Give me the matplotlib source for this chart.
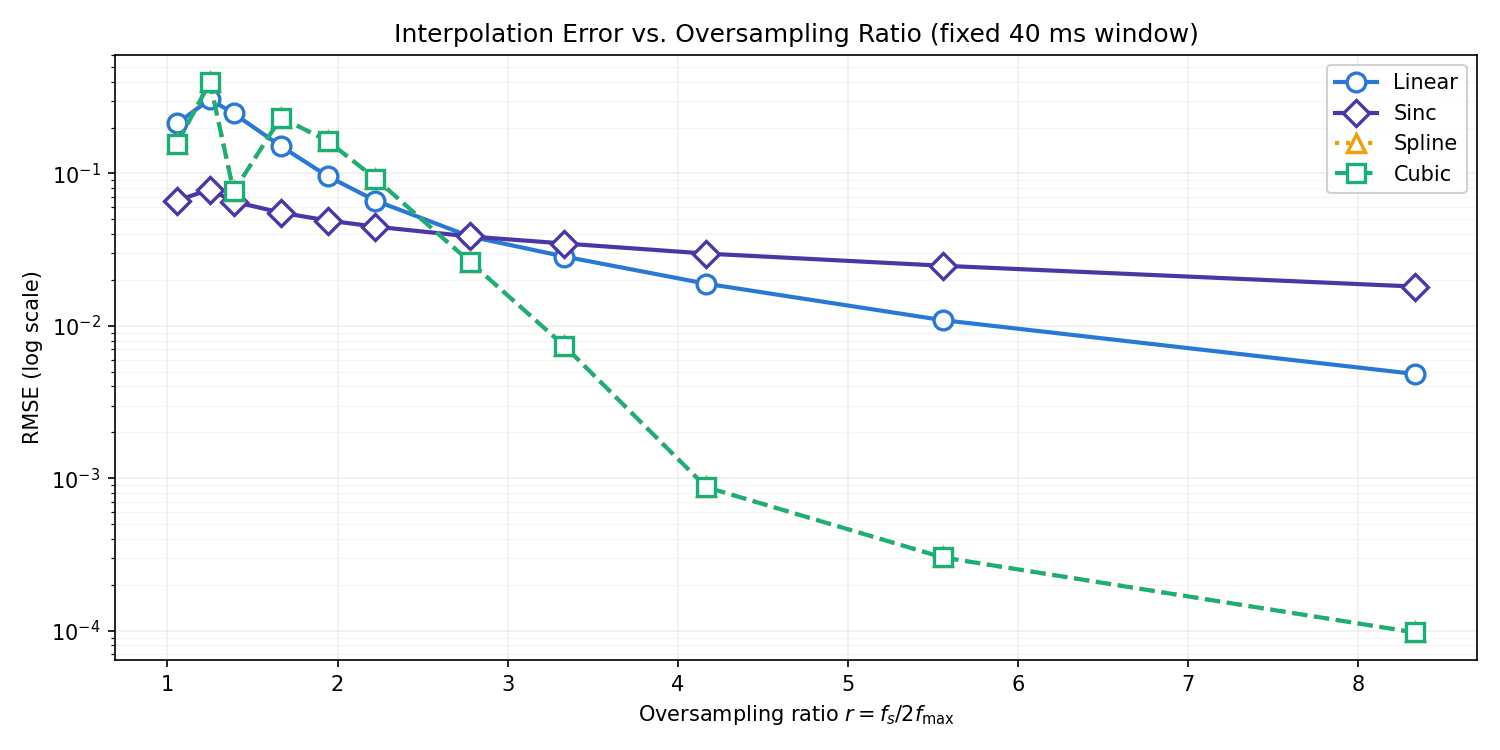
import numpy as np
import matplotlib
matplotlib.use("Agg")
import matplotlib.pyplot as plt

# Oversampling ratios r = fs / 2 fmax
ratios = [1.056, 1.25, 1.389, 1.667, 1.944, 2.222, 2.778, 3.333, 4.167, 5.556, 8.333]

# RMSE per interpolation method
rmse_linear = [0.213, 0.307, 0.248, 0.151, 0.0956, 0.0664, 0.0386, 0.0285, 0.0189, 0.0109, 0.00483]
rmse_sinc = [0.0664, 0.0785, 0.0654, 0.0553, 0.0491, 0.0448, 0.0386, 0.0347, 0.0298, 0.0248, 0.0181]
rmse_spline = [0.157, 0.397, 0.0762, 0.233, 0.163, 0.0927, 0.0263, 0.00738, 0.000873, 0.000302, 0.0000971]
rmse_cubic = [0.157, 0.397, 0.0762, 0.233, 0.163, 0.0927, 0.0263, 0.00738, 0.000873, 0.000302, 0.0000971]

fig = plt.figure(figsize=(10, 5), dpi=150)
ax = fig.add_axes([0.0767, 0.12, 0.908, 0.807])

common = dict(markersize=9, markerfacecolor="white", markeredgewidth=1.6, linewidth=2)
ax.plot(ratios, rmse_linear, "-", marker="o", color="#2a78d6", label="Linear", **common)
ax.plot(ratios, rmse_sinc, "-", marker="D", color="#4a36a6", label="Sinc", **common)
ax.plot(ratios, rmse_spline, ":", marker="^", color="#f0a000", label="Spline", **common)
ax.plot(ratios, rmse_cubic, "--", marker="s", color="#1aae78", label="Cubic", **common)

ax.set_yscale("log")
ax.grid(True, which="major", color="#e6e6e6", alpha=0.6, linewidth=0.8)
ax.grid(True, which="minor", color="#ececec", alpha=0.5, linewidth=0.6)

ax.set_title("Interpolation Error vs. Oversampling Ratio (fixed 40 ms window)", fontsize=12)
ax.set_xlabel(r"Oversampling ratio $r = f_s / 2 f_{\max}$", fontsize=10)
ax.set_ylabel("RMSE (log scale)", fontsize=10)
ax.tick_params(labelsize=10)
ax.legend(loc="upper right", fontsize=10, framealpha=0.9)

fig.savefig("out.png", dpi=150)
